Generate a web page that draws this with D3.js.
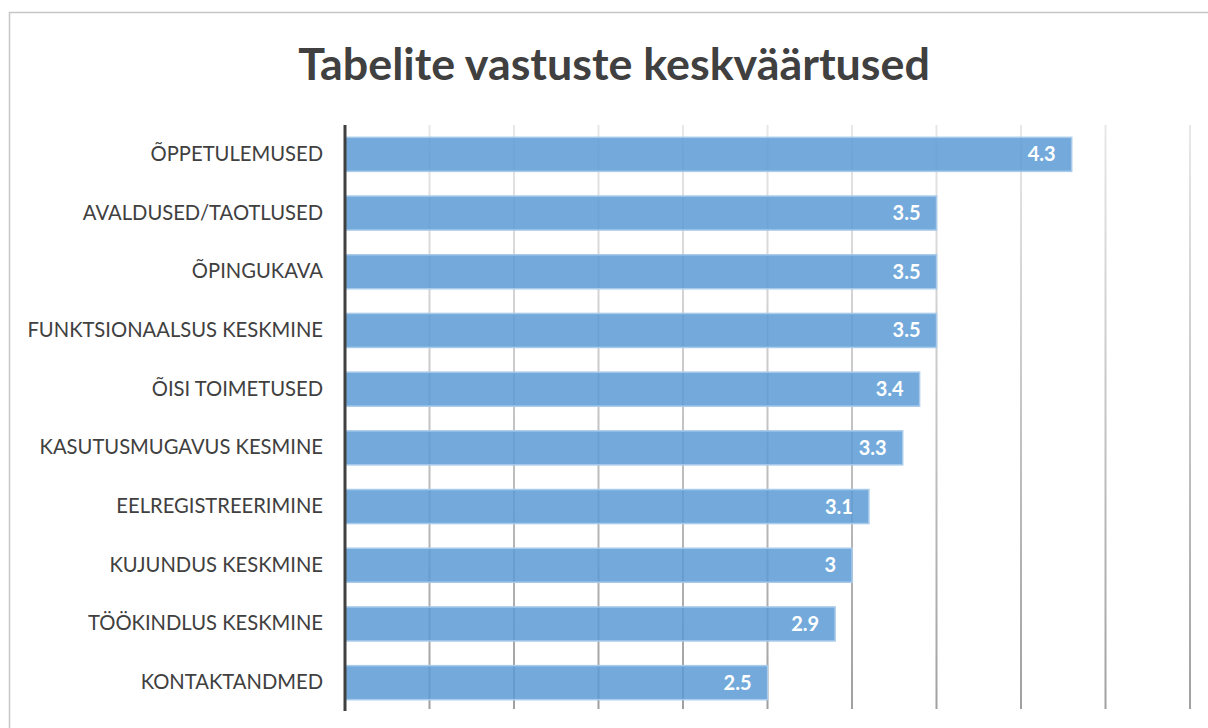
<!DOCTYPE html>
<html>
<head>
<meta charset="utf-8">
<script src="https://cdn.jsdelivr.net/npm/d3@7"></script>
<style>
  body { margin: 0; background: #fff; }
  svg { display: block; }
  .lbl { font-family: Lato, "Open Sans", sans-serif; }
</style>
</head>
<body>
<div id="canvas"></div>
<script>
const categories = [
  "ÕPPETULEMUSED",
  "AVALDUSED/TAOTLUSED",
  "ÕPINGUKAVA",
  "FUNKTSIONAALSUS KESKMINE",
  "ÕISI TOIMETUSED",
  "KASUTUSMUGAVUS KESMINE",
  "EELREGISTREERIMINE",
  "KUJUNDUS KESKMINE",
  "TÖÖKINDLUS KESKMINE",
  "KONTAKTANDMED"
];
const values = [4.3, 3.5, 3.5, 3.5, 3.4, 3.3, 3.1, 3.0, 2.9, 2.5];
const gridTicks = [0.5, 1, 1.5, 2, 2.5, 3, 3.5, 4, 4.5, 5];

const data = categories.map((c, i) => ({ name: c, value: values[i] }));

const width = 1208;
const height = 728;

const svg = d3.select("#canvas").append("svg")
    .attr("width", width)
    .attr("height", height);

// chart frame
svg.append("rect")
    .attr("x", 9.5)
    .attr("y", 12.5)
    .attr("width", 1220)
    .attr("height", 740)
    .attr("fill", "#fff")
    .attr("stroke", "#c6c6c6")
    .attr("stroke-width", 1.5);

svg.append("text")
    .attr("x", 614)
    .attr("y", 80)
    .attr("text-anchor", "middle")
    .style("font-family", "Lato, 'Open Sans', sans-serif")
    .style("font-weight", "bold")
    .style("font-size", "44.8px")
    .style("fill", "#404040")
    .text("Tabelite vastuste keskväärtused");

const x = d3.scaleLinear()
    .domain([0, 5])
    .range([345, 1190]);

const y = d3.scaleBand()
    .domain(categories)
    .range([125, 712])
    .paddingInner(0.42)
    .paddingOuter(0.21);

// gridlines fade darker toward the bottom
const grad = svg.append("defs").append("linearGradient")
    .attr("id", "gridFade")
    .attr("gradientUnits", "userSpaceOnUse")
    .attr("x1", 0).attr("y1", 125)
    .attr("x2", 0).attr("y2", 709);
grad.append("stop").attr("offset", "0%").attr("stop-color", "#e8e8e8");
grad.append("stop").attr("offset", "100%").attr("stop-color", "#a0a0a0");

svg.append("g")
    .selectAll("rect")
    .data(gridTicks)
    .enter().append("rect")
    .attr("x", d => x(d) - 1)
    .attr("y", 125)
    .attr("width", 2)
    .attr("height", 709 - 125)
    .attr("fill", "url(#gridFade)");

svg.append("g")
    .selectAll("rect")
    .data(data)
    .enter().append("rect")
    .attr("x", x(0))
    .attr("y", d => y(d.name))
    .attr("width", d => x(d.value) - x(0))
    .attr("height", y.bandwidth())
    .attr("fill", "#5b9bd5")
    .attr("fill-opacity", 0.85)
    .attr("stroke", "#a9cbeb")
    .attr("stroke-width", 1.5);

// category axis
const yAxis = svg.append("g")
    .attr("transform", `translate(${x(0)},0)`)
    .call(d3.axisLeft(y).tickSize(0).tickPadding(22));
yAxis.select(".domain").remove();
yAxis.selectAll("text")
    .attr("class", "lbl")
    .style("font-size", "20.2px")
    .style("fill", "#404040");

svg.append("line")
    .attr("x1", x(0)).attr("x2", x(0))
    .attr("y1", 125).attr("y2", 711)
    .attr("stroke", "#404040")
    .attr("stroke-width", 3);

// value labels
svg.append("g")
    .selectAll("text")
    .data(data)
    .enter().append("text")
    .attr("x", d => x(d.value) - 16)
    .attr("y", d => y(d.name) + y.bandwidth() / 2)
    .attr("dy", "0.35em")
    .attr("text-anchor", "end")
    .style("font-family", "Lato, 'Open Sans', sans-serif")
    .style("font-weight", "bold")
    .style("font-size", "20px")
    .style("fill", "#fff")
    .text(d => d.value);
</script>
</body>
</html>
